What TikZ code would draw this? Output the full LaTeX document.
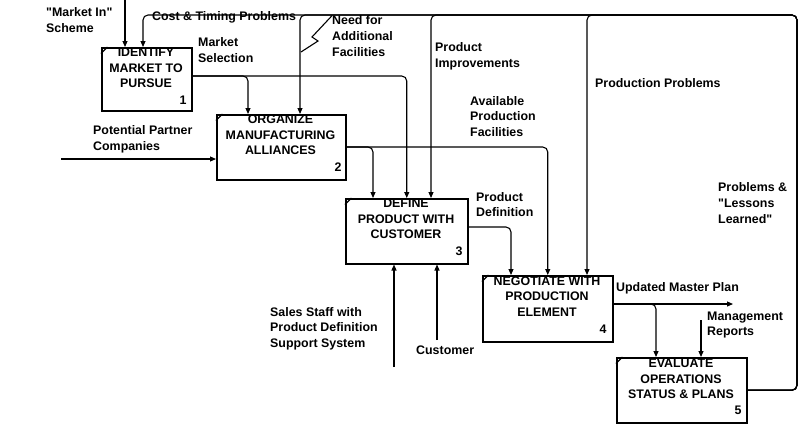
\documentclass[tikz,border=0pt]{standalone}
\usepackage{fontspec}
\setmainfont{Liberation Sans}[Ligatures=TeXOff]
\usetikzlibrary{arrows.meta}
\begin{document}
\begin{tikzpicture}[x=1pt,y=-1pt,
  box/.style={draw, line width=1.5pt, inner sep=0, anchor=north west},
  tick/.style={line width=1.2pt},
  flow/.style={line width=1.1pt, rounded corners=5pt, -{Triangle[length=6pt,width=5pt]}},
  plain/.style={line width=1.1pt},
  txt/.style={font=\fontsize{12.4}{15.6}\selectfont\bfseries, inner sep=0, align=left, anchor=west},
  ttl/.style={font=\fontsize{12.4}{15.6}\selectfont\bfseries, inner sep=0, align=center},
  num/.style={font=\fontsize{12.4}{15.6}\selectfont\bfseries, inner sep=0}]
\useasboundingbox (0,0) rectangle (800,424);

% boxes
\node[box, minimum width=90pt,  minimum height=63pt] (b1) at (101,47) {};
\node[box, minimum width=129pt, minimum height=65pt] (b2) at (216,114) {};
\node[box, minimum width=122pt, minimum height=65pt] (b3) at (345,198) {};
\node[box, minimum width=130pt, minimum height=66pt] (b4) at (482,275) {};
\node[box, minimum width=130pt, minimum height=65pt] (b5) at (616,357) {};
\foreach \b in {b1,b2,b3,b4,b5}{
  \draw[tick] ([yshift=-6.5pt]\b.north west) -- ([xshift=6.5pt]\b.north west);
}

% titles
\node[ttl] (t1) at (146,68) {IDENTIFY\\MARKET TO\\PURSUE};
\node[ttl] (t2) at (280.5,135) {ORGANIZE\\MANUFACTURING\\ALLIANCES};
\node[ttl] (t3) at (406,219) {DEFINE\\PRODUCT WITH\\CUSTOMER};
\node[ttl] (t4) at (547,296.5) {NEGOTIATE WITH\\PRODUCTION\\ELEMENT};
\node[ttl] (t5) at (681,379) {EVALUATE\\OPERATIONS\\STATUS \& PLANS};
\node[num] (n1) at (183,100) {1};
\node[num] (n2) at (338,167) {2};
\node[num] (n3) at (459,251) {3};
\node[num] (n4) at (603,329) {4};
\node[num] (n5) at (738,410) {5};

% coordinates for free ends
\coordinate (mi) at (125,0);
\coordinate (ft) at (797,15);
\coordinate (pp) at (61,159);
\coordinate (ump) at (733,304);
\coordinate (mr) at (701,320);
\coordinate (ss) at (394,367);
\coordinate (cu) at (437,340);

% inputs
\draw[flow] (mi) -- (b1.north -| mi);
\draw[flow] (pp) -- (b2.west |- pp);

% feedback loop from box 5
\draw[flow] (b5.east) -| (ft) -| (b1.north -| 143,0);
\draw[flow] (b5.east) -| (ft) -| (b2.north -| 300,0);
\draw[flow] (b5.east) -| (ft) -| (b3.north -| 431,0);
\draw[flow] (b5.east) -| (ft) -| (b4.north -| 587,0);

% box 1 output
\draw[flow] (b1.east |- 0,76) -| (b3.north);
\draw[flow] (b1.east |- 0,76) -| (b2.north -| 248,0);

% box 2 output
\draw[flow] (b2.east |- 0,147) -| (b4.north);
\draw[flow] (b2.east |- 0,147) -| (b3.north -| 373,0);

% box 3 output
\draw[flow] (b3.east |- 0,227) -| (b4.north -| 511,0);

% box 4 output
\draw[flow] (b4.east |- ump) -- (ump);
\draw[flow] (b4.east |- ump) -| (b5.north -| 656,0);

% management reports
\draw[flow] (mr) -- (b5.north -| mr);

% mechanisms
\draw[flow] (ss) -- (b3.south -| ss);
\draw[flow] (cu) -- (b3.south -| cu);

% squiggle for label
\node[txt] (nf) at (332,36) {Need for\\Additional\\Facilities};
\draw[plain] (301,52) -- (318,41) -- (312,37) -- (nf.north west);

% labels
\node[txt] (l1) at (46,20) {"Market In"\\Scheme};
\node[txt] (l2) at (152,17) {Cost \& Timing Problems};
\node[txt] (l3) at (198,50) {Market\\Selection};
\node[txt] (l4) at (435,56) {Product\\Improvements};
\node[txt] (l5) at (470,116.5) {Available\\Production\\Facilities};
\node[txt] (l6) at (595,83) {Production Problems};
\node[txt] (l7) at (93,139) {Potential Partner\\Companies};
\node[txt] (l8) at (476,204.5) {Product\\Definition};
\node[txt] (l9) at (718,203) {Problems \&\\"Lessons\\Learned"};
\node[txt] (l10) at (616,288) {Updated Master Plan};
\node[txt] (l11) at (707,325) {Management\\Reports};
\node[txt] (l12) at (270,328.5) {Sales Staff with\\Product Definition\\Support System};
\node[txt] (l13) at (416,350) {Customer};
\end{tikzpicture}
\end{document}
